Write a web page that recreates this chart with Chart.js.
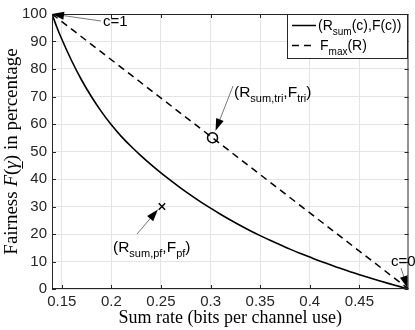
<!DOCTYPE html>
<html>
<head>
<meta charset="utf-8">
<script src="https://cdn.jsdelivr.net/npm/chart.js@4.4.1/dist/chart.umd.min.js"></script>
<style>
  html, body { margin: 0; padding: 0; background: #fff; }
  #wrap { width: 415px; height: 330px; }
</style>
</head>
<body>
<div id="wrap"><canvas id="fairness" width="415" height="330"></canvas></div>
<script>
// (R_sum(c), F(c)) curve
const sumRate = [0.1402, 0.145, 0.15, 0.16, 0.17, 0.18, 0.19, 0.2, 0.21, 0.22, 0.23, 0.24,
  0.25, 0.26, 0.27, 0.28, 0.29, 0.3, 0.31, 0.32, 0.33, 0.34, 0.35, 0.36, 0.37, 0.38, 0.39,
  0.4, 0.41, 0.42, 0.43, 0.44, 0.45, 0.46, 0.47, 0.48, 0.49, 0.4995];
const fairness = [100, 95.3, 90.9, 83.0, 76.0, 69.9, 64.5, 59.7, 55.5, 51.8, 48.4, 45.2,
  42.2, 39.4, 36.7, 34.15, 31.7, 29.4, 27.2, 25.1, 23.1, 21.2, 19.4, 17.7, 16.1, 14.5, 13.0,
  11.6, 10.2, 8.9, 7.6, 6.4, 5.2, 4.1, 3.0, 1.95, 0.95, 0];

// F_max(R) straight line
const fmaxRate = [0.1402, 0.4995];
const fmaxValue = [100, 0];

// special points
const triPoint = [0.302, 55];
const pfPoint = [0.251, 30];

const xTicks = [0.15, 0.2, 0.25, 0.3, 0.35, 0.4, 0.45];
const xTickLabels = ["0.15", "0.2", "0.25", "0.3", "0.35", "0.4", "0.45"];
const yTicks = [0, 10, 20, 30, 40, 50, 60, 70, 80, 90, 100];

const sans = "'Liberation Sans', Arial, sans-serif";
const serif = "'Liberation Serif', 'DejaVu Serif', serif";
const ink = "#262626";

function toPoints(xs, ys) {
  return xs.map((x, i) => ({ x: x, y: ys[i] }));
}

// draws text made of normal and subscript pieces
function richText(ctx, parts, x, y, size) {
  let cx = x;
  parts.forEach(p => {
    const sub = p[1] === "s";
    ctx.font = (sub ? Math.round(size * 0.72) : size) + "px " + sans;
    ctx.fillText(p[0], cx, sub ? y + 5 : y);
    cx += ctx.measureText(p[0]).width;
  });
}

function arrow(ctx, x0, y0, x1, y1) {
  const a = Math.atan2(y1 - y0, x1 - x0);
  const len = 12, half = 4;
  ctx.strokeStyle = "#555";
  ctx.lineWidth = 0.8;
  ctx.beginPath();
  ctx.moveTo(x0, y0);
  ctx.lineTo(x1 - Math.cos(a) * len * 0.8, y1 - Math.sin(a) * len * 0.8);
  ctx.stroke();
  ctx.fillStyle = "#000";
  ctx.beginPath();
  ctx.moveTo(x1, y1);
  ctx.lineTo(x1 - Math.cos(a) * len - Math.sin(a) * half, y1 - Math.sin(a) * len + Math.cos(a) * half);
  ctx.lineTo(x1 - Math.cos(a) * len + Math.sin(a) * half, y1 - Math.sin(a) * len - Math.cos(a) * half);
  ctx.closePath();
  ctx.fill();
}

const decorations = {
  id: "decorations",
  afterDraw(chart) {
    const ctx = chart.ctx;
    const a = chart.chartArea;
    const xs = chart.scales.x, ys = chart.scales.y;
    ctx.save();

    // axes box and inward ticks
    ctx.strokeStyle = ink;
    ctx.lineWidth = 1;
    ctx.strokeRect(a.left + 0.5, a.top + 0.5, a.right - a.left - 1, a.bottom - a.top - 1);
    ctx.beginPath();
    xTicks.forEach(v => {
      const px = Math.round(xs.getPixelForValue(v)) + 0.5;
      ctx.moveTo(px, a.bottom); ctx.lineTo(px, a.bottom - 4);
      ctx.moveTo(px, a.top); ctx.lineTo(px, a.top + 4);
    });
    yTicks.forEach(v => {
      const py = Math.round(ys.getPixelForValue(v)) + 0.5;
      ctx.moveTo(a.left, py); ctx.lineTo(a.left + 4, py);
      ctx.moveTo(a.right, py); ctx.lineTo(a.right - 4, py);
    });
    ctx.stroke();

    // annotations
    ctx.fillStyle = "#000";
    ctx.textBaseline = "alphabetic";
    ctx.textAlign = "left";
    const P = (x, y) => [xs.getPixelForValue(x), ys.getPixelForValue(y)];

    const c1 = P(sumRate[0], fairness[0]);
    arrow(ctx, 101, 21, c1[0], c1[1]);
    ctx.fillStyle = "#000";
    richText(ctx, [["c=1", "n"]], 103, 26, 15);

    const c0 = P(sumRate[sumRate.length - 1], fairness[fairness.length - 1]);
    arrow(ctx, 401, 268, c0[0] - 1, c0[1] - 1);
    ctx.fillStyle = "#000";
    richText(ctx, [["c=0", "n"]], 391, 266, 15);

    const tri = P(triPoint[0], triPoint[1]);
    arrow(ctx, 233, 86, tri[0] + 3, tri[1] - 7);
    ctx.fillStyle = "#000";
    richText(ctx, [["(R", "n"], ["sum,tri", "s"], [",F", "n"], ["tri", "s"], [")", "n"]], 234, 97, 15.5);

    const pf = P(pfPoint[0], pfPoint[1]);
    arrow(ctx, 137, 234, pf[0] - 4, pf[1] + 3);
    ctx.fillStyle = "#000";
    richText(ctx, [["(R", "n"], ["sum,pf", "s"], [",F", "n"], ["pf", "s"], [")", "n"]], 113, 252, 15.5);

    // legend
    ctx.fillStyle = "#fff";
    ctx.fillRect(287, 14, 121, 45);
    ctx.strokeStyle = ink;
    ctx.lineWidth = 1;
    ctx.strokeRect(287.5, 14.5, 120, 44);
    ctx.strokeStyle = "#000";
    ctx.lineWidth = 1.5;
    ctx.beginPath(); ctx.moveTo(292, 25.5); ctx.lineTo(316, 25.5); ctx.stroke();
    ctx.setLineDash([7, 5]);
    ctx.beginPath(); ctx.moveTo(292, 45.5); ctx.lineTo(316, 45.5); ctx.stroke();
    ctx.setLineDash([]);
    ctx.fillStyle = "#000";
    richText(ctx, [["(R", "n"], ["sum", "s"], ["(c),F(c))", "n"]], 318, 30, 14);
    richText(ctx, [["F", "n"], ["max", "s"], ["(R)", "n"]], 320, 50, 14);

    // axis titles
    ctx.fillStyle = "#000";
    ctx.font = "18px " + serif;
    ctx.textAlign = "center";
    ctx.fillText("Sum rate (bits per channel use)", (a.left + a.right) / 2, 323);

    ctx.translate(17, (a.top + a.bottom) / 2);
    ctx.rotate(-Math.PI / 2);
    const pieces = [["Fairness ", ""], ["F", "italic "], ["(", ""], ["\u03b3", "italic "], [")", ""], [" in percentage", ""]];
    let total = 0;
    pieces.forEach(p => { ctx.font = p[1] + "19px " + serif; total += ctx.measureText(p[0]).width; });
    let cx = -total / 2;
    ctx.textAlign = "left";
    pieces.forEach(p => {
      ctx.font = p[1] + "19px " + serif;
      const w = ctx.measureText(p[0]).width;
      ctx.fillText(p[0], cx, 0);
      if (p[0] === "\u03b3") {
        ctx.fillRect(cx, 5, w, 1);
      }
      cx += w;
    });
    ctx.restore();
  }
};

new Chart(document.getElementById("fairness").getContext("2d"), {
  type: "line",
  data: {
    datasets: [
      {
        label: "(R_sum(c),F(c))",
        data: toPoints(sumRate, fairness),
        borderColor: "#000",
        borderWidth: 1.6,
        pointRadius: 0,
        cubicInterpolationMode: "monotone",
        fill: false
      },
      {
        label: "F_max(R)",
        data: toPoints(fmaxRate, fmaxValue),
        borderColor: "#000",
        borderWidth: 1.5,
        borderDash: [7, 5],
        pointRadius: 0,
        fill: false
      },
      {
        label: "tri",
        data: [{ x: triPoint[0], y: triPoint[1] }],
        showLine: false,
        pointStyle: "circle",
        pointRadius: 5,
        borderColor: "#000",
        backgroundColor: "rgba(0,0,0,0)",
        pointBorderWidth: 1.5
      },
      {
        label: "pf",
        data: [{ x: pfPoint[0], y: pfPoint[1] }],
        showLine: false,
        pointStyle: "crossRot",
        pointRadius: 4.5,
        borderColor: "#000",
        pointBorderWidth: 1.5
      }
    ]
  },
  options: {
    responsive: false,
    animation: false,
    devicePixelRatio: 1,
    layout: { padding: { top: 8, right: 4, left: 0, bottom: 0 } },
    plugins: {
      legend: { display: false },
      tooltip: { enabled: false }
    },
    scales: {
      x: {
        type: "linear",
        min: fmaxRate[0],
        max: fmaxRate[1],
        afterBuildTicks: s => { s.ticks = xTicks.map(v => ({ value: v })); },
        afterFit: s => { s.height = 41; },
        ticks: {
          callback: v => xTickLabels[xTicks.indexOf(v)] || "",
          font: { family: sans, size: 15 },
          color: ink,
          padding: 4,
          maxRotation: 0,
          autoSkip: false
        },
        grid: { color: "#e4e4e4", drawTicks: false },
        border: { display: false }
      },
      y: {
        min: 0,
        max: 100,
        afterBuildTicks: s => { s.ticks = yTicks.map(v => ({ value: v })); },
        afterFit: s => { s.width = 52; },
        ticks: {
          font: { family: sans, size: 15 },
          color: ink,
          padding: 5
        },
        grid: { color: "#e4e4e4", drawTicks: false },
        border: { display: false }
      }
    }
  },
  plugins: [decorations]
});
</script>
</body>
</html>
